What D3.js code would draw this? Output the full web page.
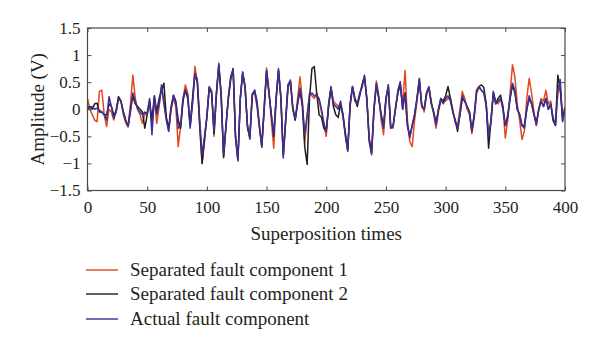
<!DOCTYPE html>
<html>
<head>
<meta charset="utf-8">
<script src="https://cdn.jsdelivr.net/npm/d3@7"></script>
<style>
  html, body { margin: 0; padding: 0; background: #fff; }
  svg { display: block; }
  text { font-family: "Liberation Serif", "DejaVu Serif", serif; fill: #231f20; }
</style>
</head>
<body>
<svg id="chart" width="600" height="351"></svg>
<script>
const tStep = 2;
const xTicks = [0, 50, 100, 150, 200, 250, 300, 350, 400];
const yTicks = [-1.5, -1, -0.5, 0, 0.5, 1, 1.5];
const seriesNames = ["Separated fault component 1", "Separated fault component 2", "Actual fault component"];

const separated1 = [
  0.2,0.0,-0.1,-0.2,-0.23,0.33,0.35,-0.1,-0.32,0.0,
  -0.05,-0.2,0.0,0.23,0.15,-0.1,-0.25,-0.32,0.1,0.63,
  0.2,0.0,-0.1,-0.26,-0.1,-0.05,0.15,-0.3,0.2,-0.26,
  0.05,0.4,0.15,-0.15,-0.4,0.0,0.2,0.05,-0.69,-0.3,
  0.2,0.45,0.3,-0.3,0.15,0.79,0.5,-0.3,-1.0,-0.6,
  -0.1,0.4,0.35,-0.5,0.25,0.8,0.3,-0.9,-0.35,0.25,
  0.6,0.72,-0.55,-0.95,0.2,0.65,0.45,-0.35,-0.5,0.3,
  0.3,0.05,-0.35,-0.65,0.05,0.76,0.35,-0.2,-0.72,0.15,
  0.7,0.25,-0.85,-0.25,0.4,0.5,0.05,-0.2,0.2,0.6,
  0.15,-0.6,-0.15,0.3,0.25,0.2,0.3,0.15,-0.05,-0.3,
  -0.5,0.1,0.4,0.15,0.1,0.05,0.1,-0.15,-0.45,-0.75,
  0.05,0.4,0.2,0.1,0.25,0.45,0.6,0.15,-0.55,-0.8,
  0.05,0.52,0.25,-0.2,-0.47,0.15,0.45,-0.3,-0.35,0.05,
  0.3,0.45,0.1,0.72,-0.2,-0.6,-0.69,-0.2,0.15,0.5,
  0.1,-0.05,0.25,0.4,0.15,-0.1,-0.35,-0.05,0.15,0.15,
  0.15,0.2,0.2,0.0,-0.25,-0.3,0.0,0.33,0.2,0.0,
  -0.1,-0.45,-0.15,0.3,0.4,0.35,0.3,0.05,-0.45,-0.25,
  0.3,0.15,0.1,0.2,0.05,-0.53,-0.2,0.3,0.82,0.6,
  0.1,-0.2,-0.56,-0.4,0.2,0.57,0.3,-0.05,-0.3,0.0,
  0.2,0.15,0.35,0.1,0.15,-0.2,-0.3,0.3,0.4,-0.15,
  0.05
];

const separated2 = [
  0.0,0.05,0.0,0.1,0.11,-0.05,-0.05,-0.1,-0.1,0.1,
  0.05,-0.1,-0.05,0.23,0.15,-0.05,-0.2,-0.32,0.0,0.25,
  0.1,0.05,0.0,-0.05,-0.35,-0.1,0.15,-0.2,0.25,-0.05,
  0.2,0.35,0.48,-0.15,-0.35,0.05,0.26,0.15,-0.2,-0.35,
  0.15,0.35,0.2,-0.3,0.2,0.65,0.5,-0.3,-1.0,-0.55,
  -0.15,0.4,0.3,-0.45,0.3,0.82,0.25,-0.88,-0.3,0.2,
  0.55,0.75,-0.5,-0.92,0.2,0.68,0.4,-0.3,-0.55,0.25,
  0.35,0.15,-0.3,-0.7,0.0,0.7,0.3,-0.1,-0.5,0.2,
  0.72,0.2,-0.85,-0.2,0.45,0.52,0.0,-0.2,0.1,0.35,
  0.05,-0.7,-1.02,0.2,0.75,0.79,0.3,-0.1,-0.15,-0.35,
  -0.4,0.05,0.4,0.05,-0.1,-0.15,0.1,-0.1,-0.45,-0.75,
  0.1,0.42,0.2,0.05,0.25,0.45,0.6,0.2,-0.55,-0.8,
  0.0,0.45,0.2,-0.1,-0.3,0.2,0.4,-0.35,-0.3,0.0,
  0.3,0.48,0.0,0.3,-0.3,-0.5,-0.3,-0.1,0.2,0.55,
  0.05,0.0,0.3,0.4,0.1,-0.05,-0.25,0.0,0.2,0.15,
  0.25,0.42,0.2,-0.05,-0.2,-0.41,-0.1,0.2,0.15,0.05,
  -0.05,-0.4,-0.1,0.35,0.42,0.45,0.4,0.1,-0.72,-0.2,
  0.3,0.1,0.2,0.26,0.05,-0.3,-0.15,0.2,0.45,0.3,
  0.0,-0.1,-0.3,-0.3,0.0,0.2,0.1,-0.1,-0.25,0.0,
  0.15,0.05,0.2,0.0,0.1,-0.2,-0.3,0.63,0.4,-0.2,
  0.0
];

const actual = [
  0.05,0.03,0.05,0.0,0.02,-0.02,-0.05,-0.1,-0.2,0.23,
  0.05,-0.17,-0.05,0.2,0.15,-0.05,-0.2,-0.32,-0.05,0.3,
  0.15,0.0,-0.05,-0.1,-0.05,-0.1,0.2,-0.47,0.23,-0.1,
  0.1,0.45,0.1,-0.2,-0.41,0.0,0.26,0.1,-0.35,-0.3,
  0.2,0.36,0.25,-0.35,0.1,0.66,0.55,-0.2,-0.84,-0.5,
  -0.15,0.42,0.3,-0.4,0.3,0.85,0.2,-0.84,-0.3,0.2,
  0.6,0.75,-0.5,-0.95,0.2,0.69,0.4,-0.3,-0.53,0.26,
  0.35,0.1,-0.3,-0.69,0.0,0.72,0.3,-0.1,-0.47,0.2,
  0.75,0.2,-0.9,-0.2,0.45,0.54,0.0,-0.17,0.1,0.39,
  0.1,-0.47,-0.1,0.26,0.3,0.25,0.25,0.2,0.0,-0.25,
  -0.41,0.1,0.42,0.1,0.05,0.0,0.15,-0.1,-0.5,-0.78,
  0.1,0.42,0.15,0.1,0.3,0.4,0.63,0.2,-0.6,-0.84,
  0.0,0.48,0.2,-0.1,-0.35,0.2,0.45,-0.35,-0.3,0.0,
  0.35,0.51,0.0,0.3,-0.3,-0.53,-0.3,-0.1,0.2,0.57,
  0.05,0.0,0.3,0.42,0.1,-0.05,-0.29,0.0,0.2,0.1,
  0.2,0.25,0.15,-0.05,-0.2,-0.35,-0.1,0.25,0.15,0.05,
  -0.05,-0.41,-0.1,0.35,0.42,0.35,0.3,0.1,-0.5,-0.2,
  0.33,0.1,0.15,0.2,0.0,-0.3,-0.1,0.2,0.48,0.35,
  0.0,-0.1,-0.3,-0.35,0.0,0.25,0.1,-0.1,-0.29,0.0,
  0.15,0.05,0.2,0.0,0.1,-0.15,-0.29,0.35,0.55,-0.23,
  0.0
];

// ---- drawing ----
const colors = ["#e2471d", "#1e1e1e", "#3b2f98"];
const svg = d3.select("#chart");
const plotLeft = 87.5, plotRight = 565, plotTop = 28, plotBottom = 190.5;

const x = d3.scaleLinear().domain([0, 400]).range([plotLeft, plotRight]);
const y = d3.scaleLinear().domain([-1.5, 1.5]).range([plotBottom, plotTop]);

const frameColor = "#4a4a4a";

svg.append("clipPath").attr("id", "clip")
  .append("rect").attr("x", plotLeft).attr("y", plotTop)
  .attr("width", plotRight - plotLeft).attr("height", plotBottom - plotTop);

const line = d3.line()
  .x((d, i) => x(i * tStep))
  .y(d => y(d));

const allSeries = [separated1, separated2, actual];
const g = svg.append("g").attr("clip-path", "url(#clip)");
allSeries.forEach((s, k) => {
  g.append("path")
    .datum(s)
    .attr("fill", "none")
    .attr("stroke", colors[k])
    .attr("stroke-width", 1.5)
    .attr("stroke-linejoin", "round")
    .attr("d", line);
});

function styleAxis(sel, showText) {
  sel.select(".domain").remove();
  sel.selectAll(".tick line").attr("stroke", frameColor).attr("stroke-width", 1);
  sel.selectAll(".tick text")
    .style("font-family", '"Liberation Serif", "DejaVu Serif", serif')
    .style("font-size", "17px")
    .attr("fill", "#231f20");
  if (!showText) sel.selectAll(".tick text").remove();
}
const fmt = d => (d < 0 ? "\u2212" + Math.abs(d) : String(d));

svg.append("g").attr("transform", `translate(0,${plotBottom})`)
  .call(d3.axisBottom(x).tickValues(xTicks).tickSize(-4).tickPadding(10).tickFormat(d => d))
  .call(s => styleAxis(s, true));
svg.append("g").attr("transform", `translate(0,${plotTop})`)
  .call(d3.axisTop(x).tickValues(xTicks).tickSize(-4))
  .call(s => styleAxis(s, false));
svg.append("g").attr("transform", `translate(${plotLeft},0)`)
  .call(d3.axisLeft(y).tickValues(yTicks).tickSize(-4).tickPadding(7).tickFormat(fmt))
  .call(s => styleAxis(s, true));
svg.append("g").attr("transform", `translate(${plotRight},0)`)
  .call(d3.axisRight(y).tickValues(yTicks).tickSize(-4))
  .call(s => styleAxis(s, false));

svg.append("rect")
  .attr("x", plotLeft).attr("y", plotTop)
  .attr("width", plotRight - plotLeft).attr("height", plotBottom - plotTop)
  .attr("fill", "none").attr("stroke", frameColor).attr("stroke-width", 1.2);

svg.append("text")
  .attr("x", (plotLeft + plotRight) / 2).attr("y", 240)
  .attr("text-anchor", "middle")
  .style("font-size", "19px")
  .text("Superposition times");
svg.append("text")
  .attr("transform", `translate(44,${(plotTop + plotBottom) / 2}) rotate(-90)`)
  .attr("text-anchor", "middle")
  .style("font-size", "19px")
  .text("Amplitude (V)");

const legY = [270, 294, 319];
seriesNames.forEach((name, k) => {
  svg.append("line")
    .attr("x1", 86).attr("x2", 118)
    .attr("y1", legY[k]).attr("y2", legY[k])
    .attr("stroke", colors[k]).attr("stroke-width", 1.4);
  svg.append("text")
    .attr("x", 130).attr("y", legY[k] + 6)
    .style("font-size", "19px")
    .text(name);
});
</script>
</body>
</html>
